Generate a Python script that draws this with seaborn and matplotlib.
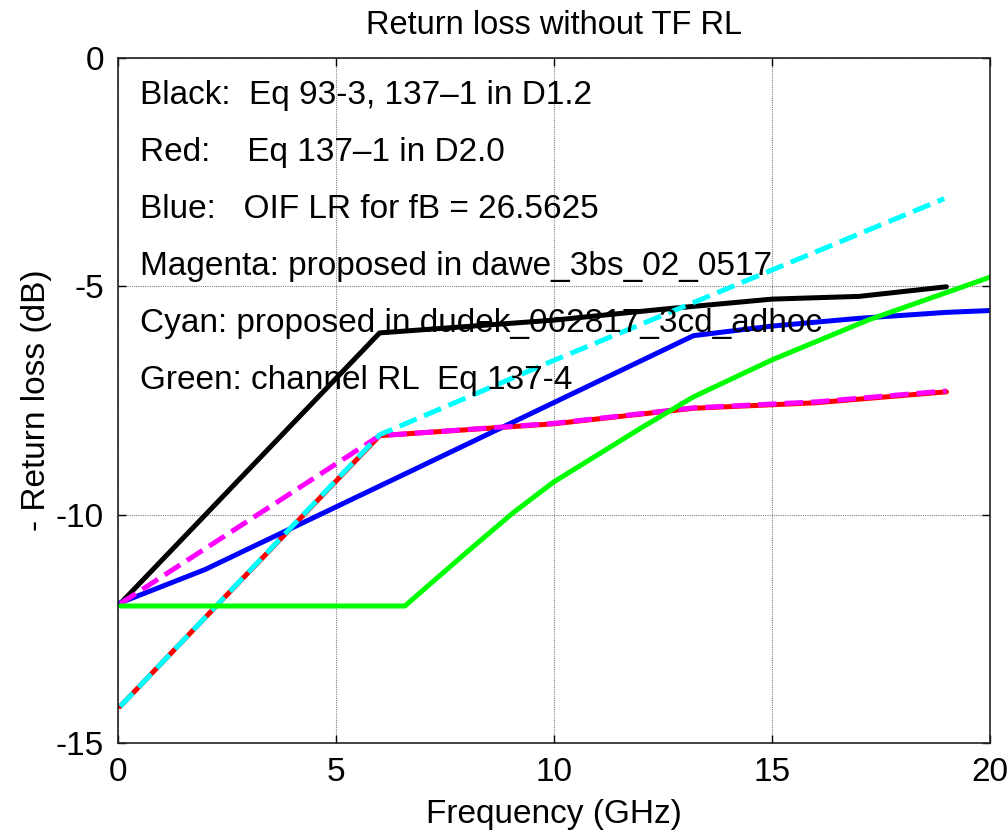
import matplotlib
matplotlib.use("Agg")
import matplotlib.pyplot as plt
import seaborn as sns
import pandas as pd

# ---- data ----
black_f = [0.05, 6.0, 10.0, 12.5, 15.0, 17.0, 19.0]
black_rl = [-11.95, -6.02, -5.74, -5.50, -5.28, -5.22, -5.01]

red_f = [0.05, 1.1, 6.0, 10.0, 13.2, 16.0, 19.0]
red_rl = [-14.2, -13.15, -8.27, -8.01, -7.67, -7.55, -7.31]

blue_f = [0.05, 2.0, 6.6, 13.2, 15.0, 17.0, 19.0, 20.0]
blue_rl = [-11.93, -11.2, -9.1, -6.08, -5.87, -5.70, -5.57, -5.53]

magenta_f = [0.05, 6.0, 10.0, 13.2, 16.0, 19.0]
magenta_rl = [-11.95, -8.27, -8.0, -7.66, -7.53, -7.29]

cyan_f = [0.05, 1.1, 6.0, 10.0, 18.95]
cyan_rl = [-14.2, -13.15, -8.25, -6.62, -3.08]

green_f = [0.05, 6.58, 8.0, 9.06, 10.0, 12.0, 13.2, 15.0, 17.2, 20.0]
green_rl = [-12.0, -12.0, -10.82, -9.96, -9.28, -8.1, -7.42, -6.61, -5.74, -4.8]

notes = [
    "Black:  Eq 93-3, 137\u20131 in D1.2",
    "Red:    Eq 137\u20131 in D2.0",
    "Blue:   OIF LR for fB = 26.5625",
    "Magenta: proposed in dawe_3bs_02_0517",
    "Cyan: proposed in dudek_062817_3cd_adhoc",
    "Green: channel RL  Eq 137-4",
]
note_y = [-1.0, -2.25, -3.5, -4.75, -6.0, -7.25]

x_ticks = [0, 5, 10, 15, 20]
y_ticks = [0, -5, -10, -15]

series = [
    ("Black", black_f, black_rl, "#000000", "-"),
    ("Red", red_f, red_rl, "#ff0000", "-"),
    ("Blue", blue_f, blue_rl, "#0000ff", "-"),
    ("Magenta", magenta_f, magenta_rl, "#ff00ff", "--"),
    ("Cyan", cyan_f, cyan_rl, "#00ffff", "--"),
    ("Green", green_f, green_rl, "#00ff00", "-"),
]

sns.set_theme(style="white")
plt.rcParams["font.family"] = ["Liberation Sans", "DejaVu Sans"]
plt.rcParams["axes.unicode_minus"] = False
plt.rcParams["text.color"] = "#000000"
plt.rcParams["axes.labelcolor"] = "#000000"

fig = plt.figure(figsize=(10.08, 8.33), dpi=100)
ax = fig.add_axes([118 / 1008, (833 - 743) / 833, (990 - 118) / 1008, (743 - 58) / 833])

for name, f, rl, col, ls in series:
    df = pd.DataFrame({"f": f, "rl": rl})
    sns.lineplot(data=df, x="f", y="rl", ax=ax, color=col, linestyle=ls,
                 linewidth=3.6, sort=False, estimator=None, legend=False)

ax.set_xlim(0, 20)
ax.set_ylim(-15, 0)
ax.set_xticks(x_ticks)
ax.set_yticks(y_ticks)
ax.set_xticklabels([str(t) for t in x_ticks])
ax.set_yticklabels([str(t) for t in y_ticks])
ax.grid(True, color="#808080", linestyle=(0, (1, 1)), linewidth=0.8)
for s in ax.spines.values():
    s.set_visible(True)
    s.set_color("#222222")
    s.set_linewidth(1.2)
ax.tick_params(axis="both", which="both", direction="in", length=6, width=1,
               top=True, right=True, bottom=True, left=True,
               labelsize=24, colors="#000000")
ax.tick_params(axis="x", pad=10)
ax.tick_params(axis="y", pad=10)

for txt, y in zip(notes, note_y):
    ax.text(0.5, y, txt, fontsize=24, ha="left", va="baseline", color="#000000")

ax.set_title("Return loss without TF RL", fontsize=23.5, pad=17, color="#000000")
ax.set_xlabel("Frequency (GHz)", fontsize=24, labelpad=8, color="#000000")
ax.set_ylabel("- Return loss (dB)", fontsize=24, labelpad=3, color="#000000")

fig.savefig("out.png", dpi=100, facecolor="white")
